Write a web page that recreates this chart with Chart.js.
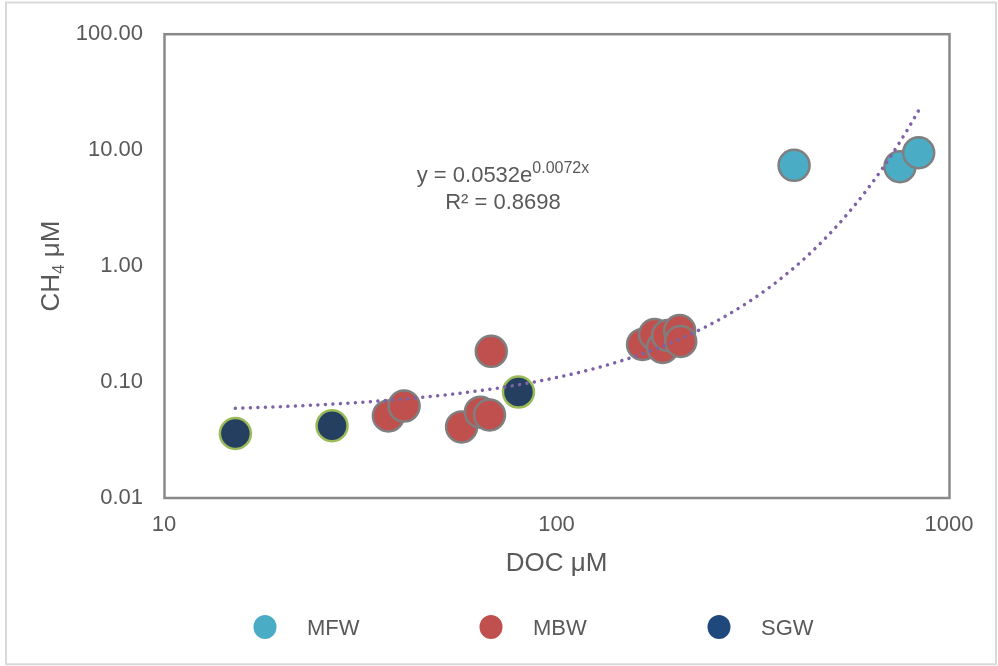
<!DOCTYPE html>
<html>
<head>
<meta charset="utf-8">
<script src="https://cdn.jsdelivr.net/npm/chart.js@4"></script>
<style>
  html, body { margin: 0; padding: 0; background: #fff; }
  #wrap { width: 998px; height: 666px; position: relative; }
</style>
</head>
<body>
<div id="wrap"><canvas id="chart"></canvas></div>
<script>
// DOC (µM) and CH4 (µM) per water type
const seriesNames = ['MFW', 'MBW', 'SGW'];
const mfwDoc = [403, 750, 837];
const mfwCh4 = [7.4, 7.2, 9.5];
const mbwDoc = [37.3, 40.9, 57.3, 64.0, 67.5, 68.2, 165.7, 177.8, 186.4, 191.9, 206, 207.2];
const mbwCh4 = [0.051, 0.062, 0.041, 0.055, 0.052, 0.184, 0.211, 0.257, 0.199, 0.252, 0.278, 0.224];
const sgwDoc = [15.2, 26.8, 80.0];
const sgwCh4 = [0.036, 0.042, 0.082];

// exponential trendline over all samples: y = a·e^(b·x)
const trendA = 0.0532;
const trendB = 0.0072;
const trendR2 = '0.8698';

// axis ticks
const xTicks = [10, 100, 1000];
const xTickLabels = ['10', '100', '1000'];
const yTicks = [0.01, 0.1, 1, 10, 100];
const yTickLabels = ['0.01', '0.10', '1.00', '10.00', '100.00'];

const FONT = "'Liberation Sans', Arial, sans-serif";
const TEXT = '#595959';

const pts = (xs, ys) => xs.map((x, i) => ({ x, y: ys[i] }));

// trendline drawn across the DOC range of the data, sampled evenly in log space
const allDoc = mfwDoc.concat(mbwDoc, sgwDoc);
const docMin = Math.min(...allDoc), docMax = Math.max(...allDoc);
const trendPts = [];
const steps = 120;
for (let i = 0; i <= steps; i++) {
  const x = docMin * Math.pow(docMax / docMin, i / steps);
  trendPts.push({ x, y: trendA * Math.exp(trendB * x) });
}

const legendColors = ['#4BACC6', '#C0504D', '#1F497D'];

const decorPlugin = {
  id: 'decor',
  beforeDraw(chart) {
    const ctx = chart.ctx;
    ctx.save();
    ctx.fillStyle = '#fff';
    ctx.fillRect(0, 0, chart.width, chart.height);
    // outer frame
    ctx.strokeStyle = '#D9D9D9';
    ctx.lineWidth = 2;
    ctx.strokeRect(6, 2.5, 990, 661.8);
    ctx.restore();
  },
  beforeDatasetsDraw(chart) {
    const ctx = chart.ctx, ca = chart.chartArea;
    ctx.save();
    ctx.strokeStyle = '#898989';
    ctx.lineWidth = 2.5;
    ctx.strokeRect(ca.left + 0.5, ca.top, ca.right - ca.left, ca.bottom - ca.top);
    ctx.restore();
  },
  afterDraw(chart) {
    const ctx = chart.ctx, ca = chart.chartArea;
    ctx.save();
    ctx.fillStyle = TEXT;
    ctx.textBaseline = 'alphabetic';

    // x axis title
    ctx.font = '26px ' + FONT;
    ctx.textAlign = 'center';
    ctx.fillText('DOC μM', (ca.left + ca.right) / 2, 571);

    // y axis title with subscript
    ctx.save();
    ctx.translate(59, (ca.top + ca.bottom) / 2);
    ctx.rotate(-Math.PI / 2);
    ctx.textAlign = 'left';
    const big = '26px ' + FONT, small = '17px ' + FONT;
    ctx.font = big; const w1 = ctx.measureText('CH').width;
    ctx.font = small; const w2 = ctx.measureText('4').width;
    ctx.font = big; const w3 = ctx.measureText(' μM').width;
    let x0 = -(w1 + w2 + w3) / 2;
    ctx.font = big; ctx.fillText('CH', x0, 0);
    ctx.font = small; ctx.fillText('4', x0 + w1, 5);
    ctx.font = big; ctx.fillText(' μM', x0 + w1 + w2, 0);
    ctx.restore();

    // trendline equation
    const cx = ca.left + 339;
    const eqMain = 'y = ' + trendA + 'e';
    const eqExp = String(trendB) + 'x';
    ctx.font = '22px ' + FONT;
    const wm = ctx.measureText(eqMain).width;
    ctx.font = '16px ' + FONT;
    const we = ctx.measureText(eqExp).width;
    let ex = cx - (wm + we) / 2;
    ctx.textAlign = 'left';
    ctx.font = '22px ' + FONT;
    ctx.fillText(eqMain, ex, 182);
    ctx.font = '16px ' + FONT;
    ctx.fillText(eqExp, ex + wm, 173);
    ctx.textAlign = 'center';
    ctx.font = '22px ' + FONT;
    ctx.fillText('R² = ' + trendR2, cx, 209);

    // legend
    const centers = [265, 491, 719];
    seriesNames.forEach((name, i) => {
      const mx = centers[i], my = 627;
      ctx.beginPath();
      ctx.ellipse(mx, my, 11.5, 12, 0, 0, Math.PI * 2);
      ctx.fillStyle = legendColors[i];
      ctx.fill();
      ctx.fillStyle = TEXT;
      ctx.font = '22px ' + FONT;
      ctx.textAlign = 'left';
      ctx.fillText(name, mx + 42, 635);
    });
    ctx.restore();
  }
};

const pointBase = { showLine: false, pointRadius: 15.5, pointBorderWidth: 2.5, order: 1 };

new Chart(document.getElementById('chart'), {
  type: 'scatter',
  data: {
    datasets: [
      {
        label: 'Trend', data: trendPts, type: 'line', showLine: true, order: 0,
        borderColor: '#7E62A5', borderWidth: 3.5, borderDash: [0.01, 7.5],
        borderCapStyle: 'round', pointRadius: 0, fill: false, tension: 0
      },
      Object.assign({ label: seriesNames[0], data: pts(mfwDoc, mfwCh4),
        backgroundColor: '#4BACC6', borderColor: '#7F7F7F' }, pointBase),
      Object.assign({ label: seriesNames[1], data: pts(mbwDoc, mbwCh4),
        backgroundColor: '#C0504D', borderColor: '#7F7F7F' }, pointBase),
      Object.assign({ label: seriesNames[2], data: pts(sgwDoc, sgwCh4),
        backgroundColor: '#243F60', borderColor: '#9BBB59' }, pointBase)
    ]
  },
  options: {
    responsive: true,
    maintainAspectRatio: false,
    animation: false,
    events: [],
    layout: { padding: { top: 31, right: 49, bottom: 0, left: 0 } },
    plugins: { legend: { display: false }, tooltip: { enabled: false } },
    scales: {
      x: {
        type: 'logarithmic', min: 10, max: 1000,
        grid: { display: false, drawTicks: false },
        border: { display: false },
        afterBuildTicks: (s) => { s.ticks = xTicks.map(v => ({ value: v })); },
        afterFit: (s) => { s.height = 168; },
        ticks: {
          padding: 14, color: TEXT, font: { family: FONT, size: 22 },
          maxRotation: 0, autoSkip: false,
          callback: (v) => xTickLabels[xTicks.indexOf(v)] ?? ''
        }
      },
      y: {
        type: 'logarithmic', min: 0.01, max: 100,
        grid: { display: false, drawTicks: false },
        border: { display: false },
        afterBuildTicks: (s) => { s.ticks = yTicks.map(v => ({ value: v })); },
        afterFit: (s) => { s.width = 164; },
        ticks: {
          padding: 21, color: TEXT, font: { family: FONT, size: 22 }, autoSkip: false,
          callback: (v) => {
            const i = yTicks.findIndex(t => Math.abs(t - v) / t < 1e-6);
            return i >= 0 ? yTickLabels[i] : '';
          }
        }
      }
    }
  },
  plugins: [decorPlugin]
});
</script>
</body>
</html>
